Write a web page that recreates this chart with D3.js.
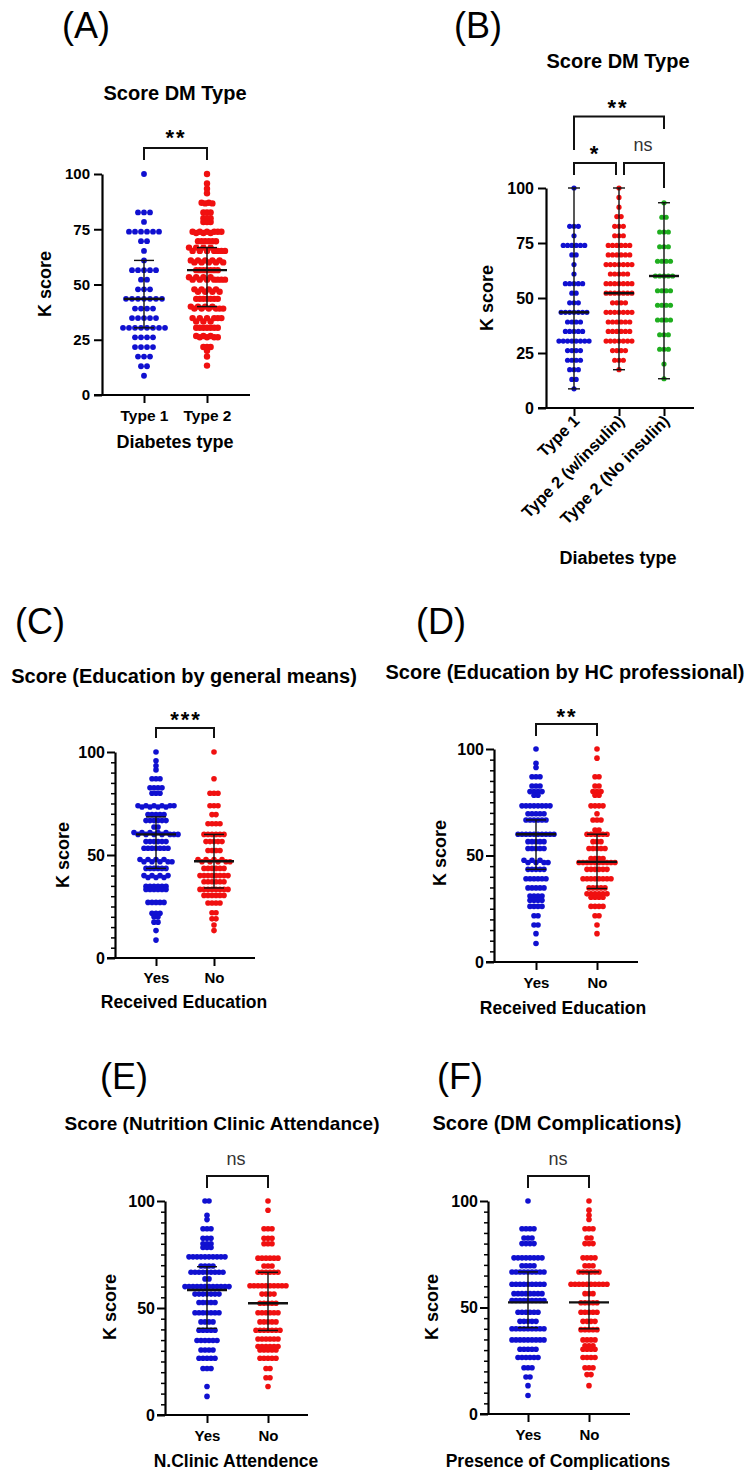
<!DOCTYPE html>
<html><head><meta charset="utf-8">
<script src="https://cdn.jsdelivr.net/npm/d3@7"></script>
<style>
body{margin:0;background:#fff}
svg{display:block}
text{font-family:'Liberation Sans',Arial,Helvetica,sans-serif;fill:#000}
</style>
</head><body>
<svg id="c" width="750" height="1470"></svg>
<script>
// ---------------- DATA: [score, number of patients] ----------------
// Panel A / B
const type1        = [[100,1],[82.6,3],[78.3,1],[73.9,6],[69.6,2],[65.2,1],[60.9,1],[56.5,5],[52.2,2],[47.8,3],[43.5,7],[39.1,4],[34.8,5],[30.4,8],[26.1,4],[21.7,4],[17.4,3],[13.0,2],[8.7,1]];
const type2Insulin = [[100,1],[95.7,1],[91.3,1],[87.0,2],[82.6,3],[78.3,3],[73.9,6],[69.6,6],[65.2,7],[60.9,5],[56.5,7],[52.2,7],[47.8,4],[43.5,7],[39.1,6],[34.8,6],[30.4,7],[26.1,4],[21.7,3],[17.4,1]];
const type2NoIns   = [[93.3,1],[86.7,2],[80.0,3],[73.3,3],[66.7,4],[60.0,5],[53.3,4],[46.7,4],[40.0,4],[33.3,3],[26.7,3],[20.0,1],[13.3,1]];
const type2All     = type2Insulin.concat(type2NoIns);
// Panel C
const eduGeneralYes = [[100,1],[95.7,1],[93.3,1],[91.3,1],[87.0,3],[82.6,4],[80.0,3],[73.9,6],[73.3,4],[69.6,5],[66.7,6],[63.6,2],[60.9,5],[60.0,7],[56.5,6],[53.3,7],[47.8,4],[46.7,5],[43.5,6],[40.0,4],[39.1,3],[34.8,6],[33.3,6],[27.0,5],[21.7,3],[20.0,2],[17.4,2],[13.3,1],[8.7,1]];
const eduGeneralNo  = [[100,1],[87.0,1],[80.0,3],[73.9,3],[69.6,2],[65.2,4],[60.0,6],[56.5,5],[52.2,4],[47.8,4],[46.7,5],[43.5,6],[40.0,8],[37.0,6],[33.3,8],[30.4,6],[26.7,4],[22.0,2],[19.0,2],[16.0,1],[13.3,1]];
// Panel D
const eduHCYes = [[100,1],[93.3,1],[91.3,1],[87.0,3],[82.6,3],[80.0,4],[78.3,2],[73.3,8],[69.6,5],[66.7,6],[60.0,10],[56.5,5],[53.3,5],[47.8,3],[46.7,4],[43.5,5],[39.1,6],[34.8,5],[31.0,4],[29.0,4],[26.1,4],[21.7,2],[17.4,2],[13.3,1],[8.7,1]];
const eduHCNo  = [[100,1],[95.7,1],[87.0,2],[82.6,2],[80.0,3],[78.3,2],[73.3,4],[69.6,1],[66.7,3],[62.0,2],[60.0,6],[56.5,3],[53.3,5],[48.6,4],[46.7,10],[43.5,6],[39.1,8],[34.8,5],[32.0,6],[30.4,4],[26.1,4],[21.7,2],[17.4,1],[13.3,1]];
// Panel E
const clinicYes = [[100,2],[93.3,1],[91.3,1],[87.0,3],[82.6,3],[80.0,3],[78.3,3],[73.9,10],[69.6,4],[66.7,9],[63.6,2],[60.0,12],[56.5,7],[52.6,5],[47.8,7],[43.5,4],[39.6,5],[34.8,6],[30.4,4],[26.5,5],[21.7,3],[13.3,1],[8.7,1]];
const clinicNo  = [[100,1],[95.7,1],[87.0,3],[82.6,3],[80.0,3],[73.3,6],[69.6,3],[66.7,6],[60.4,10],[56.5,4],[52.2,5],[47.8,6],[43.5,5],[39.6,7],[35.5,6],[32.0,6],[30.4,5],[26.5,5],[21.7,2],[17.4,2],[13.3,1]];
// Panel F
const complYes = [[100,1],[87.0,4],[82.6,3],[80.0,4],[73.3,8],[69.6,4],[66.7,9],[60.9,9],[56.5,8],[53.3,9],[47.8,6],[43.5,5],[40.0,9],[34.8,9],[30.4,5],[26.5,6],[21.7,3],[17.4,2],[13.3,1],[8.7,1]];
const complNo  = [[100,1],[95.7,1],[93.3,1],[91.3,1],[87.0,3],[82.6,2],[80.0,3],[73.3,4],[69.6,3],[66.7,6],[60.9,10],[56.5,3],[52.2,5],[47.8,5],[43.5,4],[39.6,5],[34.8,4],[32.0,3],[30.4,4],[26.5,4],[21.7,3],[18.5,2],[13.3,1]];

// summary lines: [centre, lower, upper]
const statA = [[43.5,30.4,60.9],[56.5,40.0,66.7]];
const medB  = [43.5,52.2,60.0];
const statC = [[60.0,43.5,68.5],[47.0,34.0,60.0]];
const statD = [[60.0,43.5,66.7],[47.0,34.5,60.0]];
const statE = [[58.4,40.5,69.3],[52.2,39.5,66.7]];
const statF = [[52.4,40.5,66.7],[52.4,40.0,66.7]];

// categories & ticks
const catsA = ["Type 1","Type 2"];
const catsB = ["Type 1","Type 2 (w/insulin)","Type 2 (No insulin)"];
const catsYN = ["Yes","No"];
const ticksAB = [0,25,50,75,100];
const ticksCF = [0,50,100];
const minorCF = [5,10,15,20,25,30,35,40,45,55,60,65,70,75,80,85,90,95];

const BLUE="#1010d0", RED="#f01010", GREEN="#1fae1f";
const svg = d3.select("#c");

function expand(pairs){const v=[];pairs.forEach(([s,n])=>{for(let i=0;i<n;i++)v.push(s);});return v.sort((a,b)=>b-a);}

function swarm(pairs, y, cx, sp, tol){
  const rows=[];
  expand(pairs).forEach(v=>{
    const py=y(v), last=rows[rows.length-1];
    if(last && Math.abs(last.y-py)<tol) last.pts.push(v); else rows.push({y:py,pts:[v]});
  });
  const out=[];
  rows.forEach(r=>{
    const n=r.pts.length, s=r.pts, ord=[];
    for(let i=0;i<n;i++) ord.push(i%2===0? s[i/2] : s[n-1-(i-1)/2]);
    ord.forEach((v,i)=>out.push({v, x: cx+(i-(n-1)/2)*sp}));
  });
  return out;
}

function txt(g,x,y,s,size,weight,anchor,extra){
  const t=g.append("text").attr("x",x).attr("y",y).text(s)
   .style("font-size",size+"px").style("font-weight",weight||"bold").attr("text-anchor",anchor||"middle");
  if(extra) extra(t);
  return t;
}

function panel(p){
  const g=svg.append("g");
  const y=d3.scaleLinear().domain([0,100]).range([p.y0,p.y100]);
  const x=d3.scalePoint().domain(p.cats).range(p.cx);

  txt(g,p.lx,p.ly,p.letter,36,"normal");
  txt(g,p.tx,p.ty,p.title,p.tsize||20);
  txt(g,p.xtx,p.xty,p.xTitle,p.xtsize||18);
  txt(g,0,0,"K score",18,"bold","middle",t=>t.attr("transform",`translate(${p.ytx},${p.yty}) rotate(-90)`).attr("dy","0.35em"));

  p.groups.forEach((gr,i)=>{
    const pts=swarm(gr.data,y,x(p.cats[i]),gr.sp,gr.tol);
    g.append("g").selectAll("circle").data(pts).join("circle")
      .attr("cx",d=>d.x).attr("cy",d=>y(d.v)).attr("r",gr.r).attr("fill",gr.color);
  });

  p.groups.forEach((gr,i)=>{
    const cx=x(p.cats[i]);
    let mid,lo,hi;
    if(p.range){const e=d3.extent(expand(gr.data)); lo=e[0]; hi=e[1]; mid=p.stats[i];}
    else {[mid,lo,hi]=p.stats[i];}
    const s=g.append("g").attr("stroke","#111");
    s.append("line").attr("x1",cx).attr("x2",cx).attr("y1",y(lo)).attr("y2",y(hi)).attr("stroke-width",1.4);
    [lo,hi].forEach(v=>s.append("line").attr("x1",cx-p.capW/2).attr("x2",cx+p.capW/2).attr("y1",y(v)).attr("y2",y(v)).attr("stroke-width",1.4));
    s.append("line").attr("x1",cx-p.midW/2).attr("x2",cx+p.midW/2).attr("y1",y(mid)).attr("y2",y(mid)).attr("stroke-width",2.4);
  });

  const ya=g.append("g").attr("transform",`translate(${p.axisX},0)`)
    .call(d3.axisLeft(y).tickValues(p.majors).tickSize(8).tickSizeOuter(0).tickPadding(p.tpad||4).tickFormat(d3.format("d")));
  ya.select(".domain").attr("stroke-width",2.2);
  ya.selectAll(".tick line").attr("stroke-width",2);
  ya.selectAll("text").style("font-size",(p.tfont||15)+"px").style("font-weight","bold").style("font-family","'Liberation Sans',Arial,sans-serif");
  if(p.minors){
    const ym=g.append("g").attr("transform",`translate(${p.axisX},0)`)
      .call(d3.axisLeft(y).tickValues(p.minors).tickSize(4).tickFormat(""));
    ym.select(".domain").remove();
    ym.selectAll(".tick line").attr("stroke-width",1.5);
  }
  g.append("line").attr("x1",p.axisX-8).attr("x2",p.xEnd).attr("y1",p.y0).attr("y2",p.y0).attr("stroke","#000").attr("stroke-width",2.2);
  const xa=g.append("g").attr("transform",`translate(0,${p.y0})`)
    .call(d3.axisBottom(x).tickSize(8).tickSizeOuter(0));
  xa.select(".domain").remove();
  xa.selectAll(".tick line").attr("stroke-width",2);
  xa.selectAll("text").style("font-size",(p.cfont||15)+"px").style("font-weight","bold").style("font-family","'Liberation Sans',Arial,sans-serif");
  if(p.rotate){
    xa.selectAll("text").attr("text-anchor","end").attr("y",0).attr("dy",0)
      .attr("transform",`translate(6,${p.catY}) rotate(-45)`);
  } else {
    xa.selectAll("text").attr("y",p.catY).attr("dy",0);
  }

  p.brackets.forEach(b=>{
    const x1=x(p.cats[b.a])+(b.o1||0), x2=x(p.cats[b.b])+(b.o2||0);
    g.append("path").attr("d",`M${x1},${b.d1}V${b.y}H${x2}V${b.d2}`)
      .attr("fill","none").attr("stroke","#111").attr("stroke-width",2);
    const ns=b.text==="ns";
    txt(g,b.tx,b.ty,b.text,ns?18:22,ns?"normal":"bold","middle",t=>{if(!ns)t.style("letter-spacing","2px"); else t.style("fill","#333");});
  });
}

panel({letter:"(A)",lx:86,ly:38,title:"Score DM Type",tx:175,ty:100,xTitle:"Diabetes type",xtx:175,xty:448,ytx:45,yty:284,
  axisX:102,y0:395,y100:174,xEnd:250,cats:catsA,cx:[144,207],majors:ticksAB,tfont:15,cfont:15.5,catY:26,
  midW:40,capW:20,stats:statA,
  groups:[{data:type1,color:BLUE,r:2.9,sp:6,tol:3},{data:type2All,color:RED,r:3.2,sp:3.6,tol:3.5}],
  brackets:[{a:0,b:1,y:148,d1:160,d2:160,text:"**",tx:176,ty:145}]});

panel({letter:"(B)",lx:478,ly:38,title:"Score DM Type",tx:618,ty:68,xTitle:"Diabetes type",xtx:618,xty:564,ytx:487,yty:298,
  axisX:546,y0:408,y100:188,xEnd:694,cats:catsB,cx:[574,664],majors:ticksAB,tfont:16,cfont:16.5,catY:14,rotate:true,
  range:true,midW:30,capW:12,stats:medB,
  groups:[{data:type1,color:BLUE,r:2.6,sp:4.3,tol:2},{data:type2Insulin,color:RED,r:2.6,sp:4.3,tol:2},{data:type2NoIns,color:GREEN,r:2.6,sp:4.3,tol:2}],
  brackets:[{a:0,b:1,o2:-3,y:163,d1:175,d2:175,text:"*",tx:595,ty:161},
            {a:1,b:2,o1:5,y:163,d1:175,d2:188,text:"ns",tx:643,ty:151},
            {a:0,b:2,y:116.5,d1:150,d2:129,text:"**",tx:618,ty:115}]});

panel({letter:"(C)",lx:40,ly:634,title:"Score (Education by general means)",tx:184,ty:683,xTitle:"Received Education",xtsize:17.5,xtx:184,xty:1008,ytx:63,yty:855,
  axisX:115,y0:958,y100:752,xEnd:255,cats:catsYN,cx:[156,214],majors:ticksCF,minors:minorCF,tfont:16,tpad:2,cfont:15,catY:25,
  midW:40,capW:20,stats:statC,
  groups:[{data:eduGeneralYes,color:BLUE,r:2.8,sp:4,tol:3},{data:eduGeneralNo,color:RED,r:2.8,sp:4,tol:3}],
  brackets:[{a:0,b:1,y:728,d1:738,d2:738,text:"***",tx:186,ty:727}]});

panel({letter:"(D)",lx:441,ly:634,title:"Score (Education by HC professional)",tx:565,ty:679,xTitle:"Received Education",xtsize:17.5,xtx:563,xty:1014,ytx:440,yty:853,
  axisX:494,y0:962,y100:749,xEnd:638,cats:catsYN,cx:[536,597],majors:ticksCF,minors:minorCF,tfont:16,tpad:2,cfont:15,catY:26,
  midW:40,capW:20,stats:statD,
  groups:[{data:eduHCYes,color:BLUE,r:2.8,sp:4,tol:3},{data:eduHCNo,color:RED,r:2.8,sp:4,tol:3}],
  brackets:[{a:0,b:1,y:724,d1:736,d2:736,text:"**",tx:567,ty:724}]});

panel({letter:"(E)",lx:124,ly:1089,title:"Score (Nutrition Clinic Attendance)",tsize:19,tx:222,ty:1130,xTitle:"N.Clinic Attendence",xtsize:17.5,xtx:236,xty:1467,ytx:110,yty:1307,
  axisX:165,y0:1415,y100:1201,xEnd:308,cats:catsYN,cx:[207,268],majors:ticksCF,minors:minorCF,tfont:16,tpad:2,cfont:15,catY:26,
  midW:40,capW:20,stats:statE,
  groups:[{data:clinicYes,color:BLUE,r:2.8,sp:4,tol:3},{data:clinicNo,color:RED,r:2.8,sp:4,tol:3}],
  brackets:[{a:0,b:1,y:1176,d1:1188,d2:1188,text:"ns",tx:236,ty:1165}]});

panel({letter:"(F)",lx:460,ly:1089,title:"Score (DM Complications)",tx:557,ty:1130,xTitle:"Presence of Complications",xtsize:17.5,xtx:558,xty:1467,ytx:432,yty:1307,
  axisX:488,y0:1414,y100:1201,xEnd:630,cats:catsYN,cx:[528,589],majors:ticksCF,minors:minorCF,tfont:16,tpad:2,cfont:15,catY:26,
  midW:40,capW:20,stats:statF,
  groups:[{data:complYes,color:BLUE,r:2.8,sp:4,tol:3},{data:complNo,color:RED,r:2.8,sp:4,tol:3}],
  brackets:[{a:0,b:1,y:1176,d1:1188,d2:1188,text:"ns",tx:558,ty:1165}]});
</script>
</body></html>
